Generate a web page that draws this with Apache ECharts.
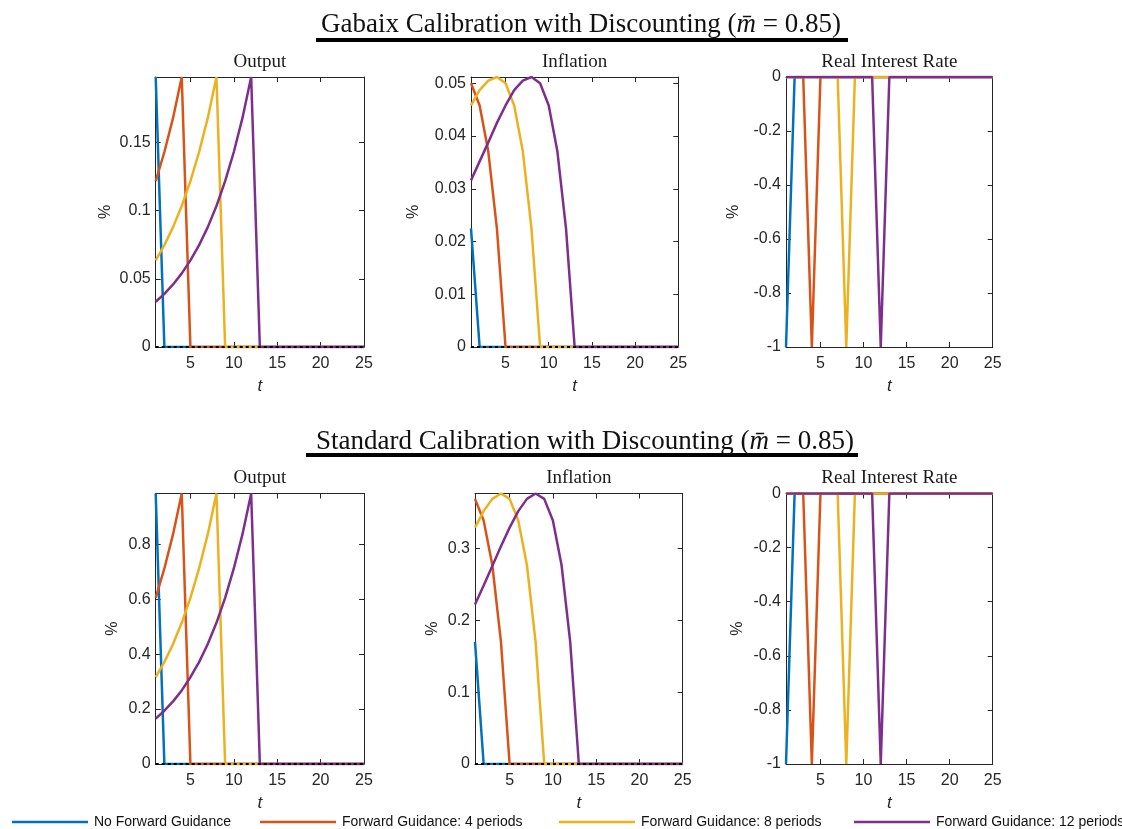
<!DOCTYPE html>
<html>
<head>
<meta charset="utf-8">
<script src="https://cdn.jsdelivr.net/npm/echarts@6/dist/echarts.min.js"></script>
<style>html,body{margin:0;padding:0;background:#fff}#c{width:1122px;height:829px}</style>
</head>
<body>
<div id="c"></div>
<script>
// ---------- data ----------
const t = [1,2,3,4,5,6,7,8,9,10,11,12,13,14,15,16,17,18,19,20,21,22,23,24,25];
const seriesNames = ['No Forward Guidance','Forward Guidance: 4 periods','Forward Guidance: 8 periods','Forward Guidance: 12 periods'];

// Gabaix calibration with discounting
const gOutput0  = [0.198,0,0,0,0,0,0,0,0,0,0,0,0,0,0,0,0,0,0,0,0,0,0,0,0];
const gOutput4  = [0.1216,0.143,0.168,0.198,0,0,0,0,0,0,0,0,0,0,0,0,0,0,0,0,0,0,0,0,0];
const gOutput8  = [0.0635,0.0747,0.0879,0.1034,0.1216,0.143,0.168,0.198,0,0,0,0,0,0,0,0,0,0,0,0,0,0,0,0,0];
const gOutput12 = [0.0332,0.039,0.0459,0.054,0.0635,0.0747,0.0879,0.1034,0.1216,0.143,0.168,0.198,0,0,0,0,0,0,0,0,0,0,0,0,0];

const gInfl0  = [0.0225,0,0,0,0,0,0,0,0,0,0,0,0,0,0,0,0,0,0,0,0,0,0,0,0];
const gInfl4  = [0.05,0.0458,0.0371,0.0225,0,0,0,0,0,0,0,0,0,0,0,0,0,0,0,0,0,0,0,0,0];
const gInfl8  = [0.0458,0.0487,0.0505,0.0512,0.05,0.0458,0.0371,0.0225,0,0,0,0,0,0,0,0,0,0,0,0,0,0,0,0,0];
const gInfl12 = [0.0316,0.0352,0.0388,0.0425,0.0458,0.0487,0.0505,0.0512,0.05,0.0458,0.0371,0.0225,0,0,0,0,0,0,0,0,0,0,0,0,0];

const gRate0  = [-1,0,0,0,0,0,0,0,0,0,0,0,0,0,0,0,0,0,0,0,0,0,0,0,0];
const gRate4  = [0,0,0,-1,0,0,0,0,0,0,0,0,0,0,0,0,0,0,0,0,0,0,0,0,0];
const gRate8  = [0,0,0,0,0,0,0,-1,0,0,0,0,0,0,0,0,0,0,0,0,0,0,0,0,0];
const gRate12 = [0,0,0,0,0,0,0,0,0,0,0,-1,0,0,0,0,0,0,0,0,0,0,0,0,0];

// Standard calibration with discounting
const sOutput0  = [0.985,0,0,0,0,0,0,0,0,0,0,0,0,0,0,0,0,0,0,0,0,0,0,0,0];
const sOutput4  = [0.605,0.712,0.837,0.985,0,0,0,0,0,0,0,0,0,0,0,0,0,0,0,0,0,0,0,0,0];
const sOutput8  = [0.316,0.371,0.437,0.514,0.605,0.712,0.837,0.985,0,0,0,0,0,0,0,0,0,0,0,0,0,0,0,0,0];
const sOutput12 = [0.165,0.194,0.228,0.268,0.316,0.371,0.437,0.514,0.605,0.712,0.837,0.985,0,0,0,0,0,0,0,0,0,0,0,0,0];

const sInfl0  = [0.17,0,0,0,0,0,0,0,0,0,0,0,0,0,0,0,0,0,0,0,0,0,0,0,0];
const sInfl4  = [0.369,0.339,0.277,0.17,0,0,0,0,0,0,0,0,0,0,0,0,0,0,0,0,0,0,0,0,0];
const sInfl8  = [0.329,0.352,0.369,0.3765,0.369,0.339,0.277,0.17,0,0,0,0,0,0,0,0,0,0,0,0,0,0,0,0,0];
const sInfl12 = [0.222,0.2485,0.2757,0.303,0.329,0.352,0.369,0.3765,0.369,0.339,0.277,0.17,0,0,0,0,0,0,0,0,0,0,0,0,0];

const sRate0  = [-1,0,0,0,0,0,0,0,0,0,0,0,0,0,0,0,0,0,0,0,0,0,0,0,0];
const sRate4  = [0,0,0,-1,0,0,0,0,0,0,0,0,0,0,0,0,0,0,0,0,0,0,0,0,0];
const sRate8  = [0,0,0,0,0,0,0,-1,0,0,0,0,0,0,0,0,0,0,0,0,0,0,0,0,0];
const sRate12 = [0,0,0,0,0,0,0,0,0,0,0,-1,0,0,0,0,0,0,0,0,0,0,0,0,0];

const zeroLine = [0,0];
const zeroLineT = [1,25];

// tick labels
const xTicks = [5,10,15,20,25];
const gOutputTicks = [0,0.05,0.1,0.15];
const gInflTicks = [0,0.01,0.02,0.03,0.04,0.05];
const rateTicks = [-1,-0.8,-0.6,-0.4,-0.2,0];
const sOutputTicks = [0,0.2,0.4,0.6,0.8];
const sInflTicks = [0,0.1,0.2,0.3];

// ---------- layout ----------
const colors = ['#0072BD','#D95319','#EDB120','#7E2F8E'];
const axisColor = '#262626';
const tickFont = {fontFamily:'Liberation Sans, Arial, sans-serif', fontSize:16, color:axisColor};

const panels = [
  {title:'Output', left:155.7, top:77, width:208.3, height:270, ymin:0, ymax:0.198, yticks:gOutputTicks, data:[gOutput0,gOutput4,gOutput8,gOutput12], zero:true, nameGap:42},
  {title:'Inflation', left:471, top:77, width:207.3, height:270, ymin:0, ymax:0.0512, yticks:gInflTicks, data:[gInfl0,gInfl4,gInfl8,gInfl12], zero:true, nameGap:49},
  {title:'Real Interest Rate', left:786, top:77, width:206.7, height:270, ymin:-1, ymax:0, yticks:rateTicks, data:[gRate0,gRate4,gRate8,gRate12], zero:false, nameGap:44},
  {title:'Output', left:155.7, top:493.5, width:208.3, height:270.5, ymin:0, ymax:0.985, yticks:sOutputTicks, data:[sOutput0,sOutput4,sOutput8,sOutput12], zero:true, nameGap:35},
  {title:'Inflation', left:475, top:493.5, width:207.7, height:270.5, ymin:0, ymax:0.3765, yticks:sInflTicks, data:[sInfl0,sInfl4,sInfl8,sInfl12], zero:true, nameGap:34},
  {title:'Real Interest Rate', left:786, top:493.5, width:206.7, height:270.5, ymin:-1, ymax:0, yticks:rateTicks, data:[sRate0,sRate4,sRate8,sRate12], zero:false, nameGap:40}
];

const grid = [], xAxis = [], yAxis = [], series = [], graphic = [];
panels.forEach((p, i) => {
  grid.push({left:p.left, top:p.top, width:p.width, height:p.height, containLabel:false});
  xAxis.push({
    type:'value', gridIndex:i, min:1, max:25, position:'bottom',
    name:'t', nameLocation:'middle', nameGap:31,
    nameTextStyle:{fontFamily:'Liberation Sans, Arial', fontStyle:'italic', fontSize:17, color:axisColor},
    axisLine:{show:true, onZero:false, lineStyle:{color:axisColor, width:1}},
    axisTick:{show:true, inside:true, length:5, customValues:xTicks, lineStyle:{color:axisColor}},
    axisLabel:Object.assign({show:true, margin:9, customValues:xTicks}, tickFont),
    splitLine:{show:false}
  });
  xAxis.push({
    type:'value', gridIndex:i, min:1, max:25, position:'top',
    axisLine:{show:true, onZero:false, lineStyle:{color:axisColor, width:1}},
    axisTick:{show:true, inside:true, length:5, customValues:xTicks, lineStyle:{color:axisColor}},
    axisLabel:{show:false}, splitLine:{show:false}
  });
  yAxis.push({
    type:'value', gridIndex:i, min:p.ymin, max:p.ymax, position:'left',
    name:'%', nameLocation:'middle', nameGap:p.nameGap, nameRotate:90,
    nameTextStyle:{fontFamily:'Liberation Sans, Arial', fontSize:16, color:axisColor},
    axisLine:{show:true, onZero:false, lineStyle:{color:axisColor, width:1}},
    axisTick:{show:true, inside:true, length:5, customValues:p.yticks, lineStyle:{color:axisColor}},
    axisLabel:Object.assign({show:true, margin:5, customValues:p.yticks}, tickFont),
    splitLine:{show:false}
  });
  yAxis.push({
    type:'value', gridIndex:i, min:p.ymin, max:p.ymax, position:'right',
    axisLine:{show:true, onZero:false, lineStyle:{color:axisColor, width:1}},
    axisTick:{show:true, inside:true, length:5, customValues:p.yticks, lineStyle:{color:axisColor}},
    axisLabel:{show:false}, splitLine:{show:false}
  });
  p.data.forEach((arr, k) => {
    series.push({
      type:'line', name:seriesNames[k], xAxisIndex:2*i, yAxisIndex:2*i,
      data:t.map((x, j) => [x, arr[j]]),
      symbol:'none', lineStyle:{color:colors[k], width:2.5}, itemStyle:{color:colors[k]},
      clip:true, z:2
    });
  });
  if (p.zero) {
    series.push({
      type:'line', name:'zero', xAxisIndex:2*i, yAxisIndex:2*i,
      data:zeroLineT.map((x, j) => [x, zeroLine[j]]),
      symbol:'none', lineStyle:{color:'#000', width:2, type:[3,3]}, z:3, silent:true, clip:false
    });
  }
  graphic.push({
    type:'text', x:p.left + p.width/2, y:p.top - 15,
    style:{text:p.title, textAlign:'center', textVerticalAlign:'middle',
      font:'19px "Liberation Serif", "DejaVu Serif", serif', fill:'#1a1a1a'}
  });
});

// main section titles and underline bars
const mainTitles = [
  {y:20, x:576, text:'Gabaix Calibration with Discounting', bar:{x:316, y:38, w:532}},
  {y:437, x:580, text:'Standard Calibration with Discounting', bar:{x:306, y:453, w:552}}
];
const title = mainTitles.map(m => ({
  text:'{n|' + m.text + ' (}{i|m\u0304}{n| = 0.85)}',
  left:m.x, top:m.y, textAlign:'center', textVerticalAlign:'middle',
  textStyle:{fontWeight:'normal', rich:{
    n:{fontFamily:'Liberation Serif, serif', fontSize:27, fontWeight:'normal', color:'#111'},
    i:{fontFamily:'Liberation Serif, serif', fontSize:27, fontStyle:'italic', fontWeight:'normal', color:'#111'}
  }}
}));
mainTitles.forEach(m => {
  graphic.push({type:'rect', shape:{x:m.bar.x, y:m.bar.y, width:m.bar.w, height:4}, style:{fill:'#000'}});
});

// legends: one per series so positions match the reference
const legendLefts = [7, 255, 554, 849];
const legend = seriesNames.map((nm, k) => ({
  data:[nm], left:legendLefts[k], top:810, itemWidth:76, itemHeight:2.5, itemGap:8, icon:'rect',
  textStyle:{fontFamily:'Liberation Sans, Arial', fontSize:14, color:'#111', padding:[0,0,0,1]},
  selectedMode:false
}));

const chart = echarts.init(document.getElementById('c'), null, {renderer:'canvas'});
chart.setOption({
  animation:false,
  backgroundColor:'#fff',
  title, grid, xAxis, yAxis, series, legend, graphic
});
</script>
</body>
</html>
